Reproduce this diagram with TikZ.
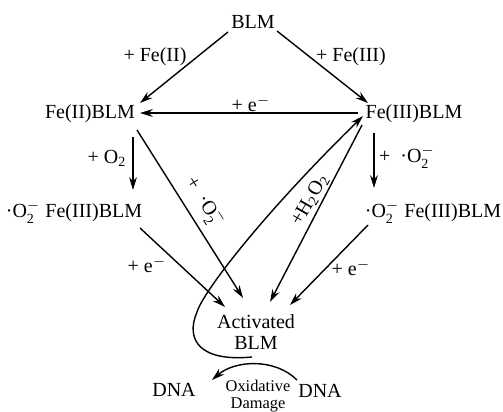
\documentclass[tikz,border=0pt]{standalone}
\usepackage{fontspec}
\usepackage{amsmath}
\setmainfont{Liberation Serif}
\usetikzlibrary{arrows.meta}
\newcommand\Otwo{O$^{-}_{\text{2}}$}
\newcommand\emin{e$^{-}$}
\begin{document}
\begin{tikzpicture}[x=0.5pt,y=-0.5pt,
  lab/.style={font=\fontsize{10}{10.5}\selectfont, inner sep=1pt},
  small/.style={font=\fontsize{8.2}{8.6}\selectfont, inner sep=1pt},
  arr/.style={line width=0.7pt,-{Stealth[length=6.4pt,width=3.9pt]}},
  ]
\useasboundingbox (0,0) rectangle (503,412);
% main nodes
\node[lab] (blm) at (253,22) {BLM};
\node[lab] (fe2) at (90,114) {Fe(II)BLM};
\node[lab] (fe3) at (414,114) {Fe(III)BLM};
\node[lab] (sl) at (74,212) {·\Otwo\ Fe(III)BLM};
\node[lab] (sr) at (433,212) {·\Otwo\ Fe(III)BLM};
\node[lab,align=center] (act) at (256,332) {Activated\\BLM};
\node[lab] (dnal) at (174,390) {DNA};
\node[small,align=center] (ox) at (258,396) {Oxidative\\Damage};
\node[lab] (dnar) at (320,391) {DNA};
% labels
\node[lab] (l1) at (155,57) {+ Fe(II)};
\node[lab] (l2) at (351,57) {+ Fe(III)};
\node[lab] (l3) at (251,104) {+ \emin};
\node[lab] (l4) at (107,158) {+ O$_{\text{2}}$};
\node[lab] (l5) at (147,265) {+ \emin};
\node[lab,rotate=-58] (l6) at (205,202) {+ \ ·\Otwo};
\node[lab,rotate=60] (l7) at (310,200) {+H$_{\text{2}}$O$_{\text{2}}$};
\node[lab] (l8) at (407,157) {+\ \ ·\Otwo};
\node[lab] (l9) at (351,268) {+ \emin};
% arrows
\draw[arr] ([shift={(-25,10)}]blm.center) -- ([shift={(50,-11)}]fe2.center);
\draw[arr] ([shift={(24,9)}]blm.center) -- ([shift={(-46,-11)}]fe3.center);
\draw[arr] ([shift={(-56,-1)}]fe3.center) -- ([shift={(50,-1)}]fe2.center);
\draw[arr] ([shift={(43,23)}]fe2.center) -- ([shift={(59,-22)}]sl.center);
\draw[arr] ([shift={(47,16)}]fe2.center) -- ([shift={(-13,-34)}]act.center);
\draw[arr] ([shift={(66,16)}]sl.center) -- ([shift={(-31,-25)}]act.center);
\draw[arr] ([shift={(-40,19)}]fe3.center) -- ([shift={(-59,-24)}]sr.center);
\draw[arr] ([shift={(-52,11)}]fe3.center) -- ([shift={(14,-30)}]act.center);
\draw[arr] ([shift={(-65,13)}]sr.center) -- ([shift={(34,-27)}]act.center);
\draw[arr] ([shift={(-4,25)}]act.center) .. controls (200,362) and (185,340) .. (197,312)
  .. controls (203,292) and (262,215) .. ([shift={(-51,2)}]fe3.center);
\draw[arr] ([shift={(-23,-11)}]dnar.center) .. controls (275,358) and (235,360) .. ([shift={(38,-10)}]dnal.center);
\end{tikzpicture}
\end{document}
